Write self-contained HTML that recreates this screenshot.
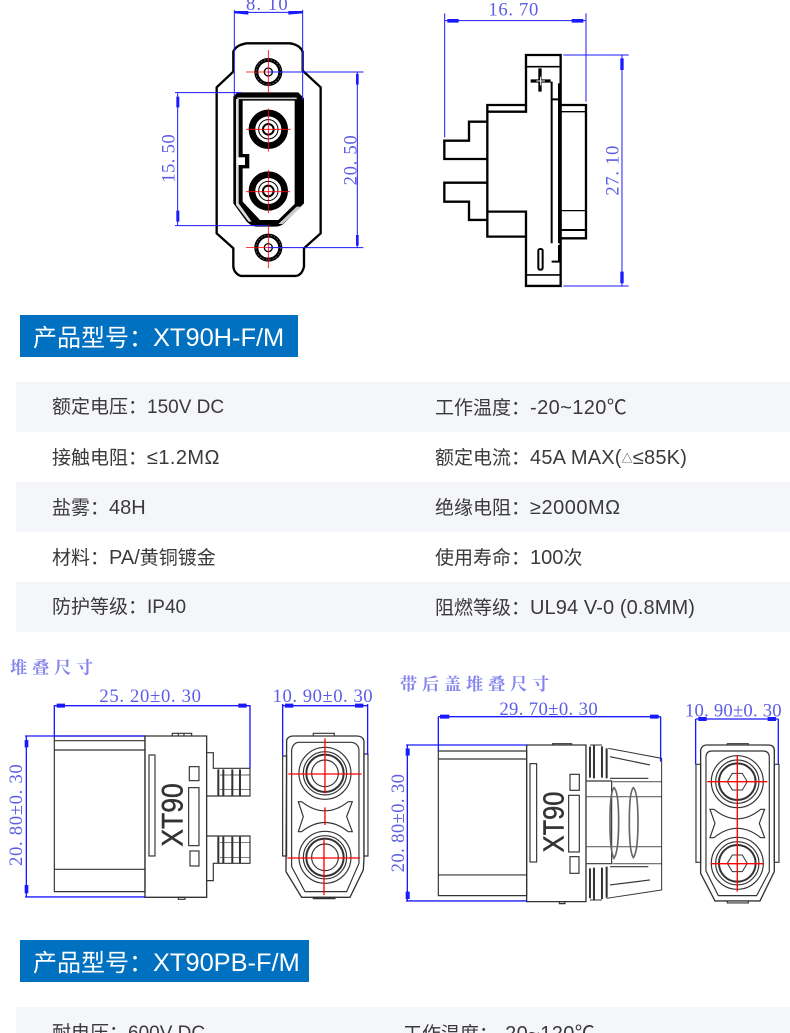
<!DOCTYPE html>
<html lang="zh"><head><meta charset="utf-8"><style>
html,body{margin:0;padding:0;background:#fff}
#p{position:relative;width:790px;height:1033px;overflow:hidden;background:#fff;font-family:"Liberation Sans","Noto Sans CJK SC",sans-serif;color:#3a3a3a}
.r{position:absolute;left:16px;width:774px;height:50px;background:#f5f6fa}
.t{position:absolute;font-size:19px;line-height:26px;white-space:nowrap}
.t i{font-style:normal;font-size:20px}
.t i.s{font-size:19px}
.t small{font-size:11px;vertical-align:2px}
.b{position:absolute;left:20px;background:#0070c0;color:#fff;font-size:24px;line-height:46px;height:42px;overflow:hidden;white-space:nowrap;padding-left:13px;box-sizing:border-box}
.b i{font-style:normal;font-size:25.4px}
svg{position:absolute;left:0;top:0}
text.d{font-family:"Liberation Serif",serif;fill:#5c5ce6;font-size:56px}
</style></head><body><div id="p">
<svg width="790" height="1033" viewBox="0 0 790 1033">
<!-- front view -->
<g transform="translate(150,0) scale(.3333)" fill="none">
<path d="M290 130H420Q450 135 458 155V212L512 262V700L462 745V800Q455 828 435 828H272Q252 820 250 800V745L200 700V262L250 215V155Q258 135 290 130Z" stroke="#000" stroke-width="7" fill="#fff"/>
<path d="M262 277H445L462 295V610L400 672Q390 680 375 680H320Q305 680 290 665L250 610V290Z" fill="#000"/>
<path d="M262 295H440" stroke="#ccc" stroke-width="5"/>
<path d="M258 297H266V610L305 665H296L258 615Z" fill="#ddd"/>
<path d="M278 302H434V612L385 660H330L278 605V505H298V462H278Z" fill="#fff"/>
<rect x="262" y="472" width="23" height="23" fill="#fff"/>
<path d="M440 620 L385 672H398L455 620Z" fill="#ccc"/>
<circle cx="355" cy="216" r="36" stroke="#000" stroke-width="12"/><circle cx="355" cy="216" r="37" stroke="#888" stroke-width="2" stroke-dasharray="5 5"/><circle cx="355" cy="216" r="12" stroke="#000" stroke-width="4"/>
<circle cx="355" cy="743" r="36" stroke="#000" stroke-width="12"/><circle cx="355" cy="743" r="37" stroke="#888" stroke-width="2" stroke-dasharray="5 5"/><circle cx="355" cy="743" r="12" stroke="#000" stroke-width="4"/>
<circle cx="355" cy="388" r="49" stroke="#000" stroke-width="20"/><circle cx="355" cy="388" r="29" stroke="#000" stroke-width="3"/><circle cx="355" cy="388" r="16" stroke="#000" stroke-width="6"/>
<circle cx="355" cy="573" r="49" stroke="#000" stroke-width="20"/><circle cx="355" cy="573" r="29" stroke="#000" stroke-width="3"/><circle cx="355" cy="573" r="16" stroke="#000" stroke-width="6"/>
<g stroke="#f00" stroke-width="2.5"><path d="M355 150V280M288 216H420M355 325V455M288 388H422M355 510V640M288 575H420M355 675V805M288 743H420"/></g>
<g stroke="#1a1aff" stroke-width="3"><path d="M253 30V290M458 30V300M253 37H458M355 216H640M355 743H640M75 278H275M75 677H355M83 280V675"/></g>
<g fill="#1a1aff"><path d="M255 33L295 33V44L255 40ZM458 33L415 33V44L458 40ZM79 290H88V322H79ZM79 632H88V665H79Z"/></g>
<text class="d" x="288" y="30" textLength="125" lengthAdjust="spacing">8. 10</text>
<text class="d" transform="translate(74,548) rotate(-90)" textLength="145">15. 50</text>
<text class="d" transform="translate(620,556) rotate(-90)" textLength="150">20. 50</text>
<g stroke="#1a1aff" stroke-width="3"><path d="M622 216V743"/></g>
<g fill="#1a1aff"><path d="M618 222H626V254H618ZM618 705H626V737H618Z"/></g>
</g>
<!-- side view -->
<g transform="translate(430,0) scale(.3333)" fill="none" stroke="#000" stroke-width="7">
<path d="M288 165H392V858H288V710H172V315H288Z"/>
<path d="M172 335H288V315M172 635H288V710"/>
<path d="M170 365H117V422H43V477H170M170 548H43V605H117V660H170"/>
<path d="M392 315H468V715H392"/>
<path d="M392 335H466M392 632H466" stroke-width="4"/><path d="M392 690H466" stroke-width="6"/>
<path d="M288 200H392" stroke-width="5"/><path d="M288 825H392" stroke-width="5"/>
<path d="M365 245V730M387 250V730M365 298H387M387 735V785H365" stroke-width="6"/>
<rect x="325" y="747" width="13" height="62" rx="5" stroke-width="6"/>
<path d="M330 205V275M302 243H362" stroke-width="10"/>
<path d="M319 243H345M332 230V256" stroke="#fff" stroke-width="3"/>
<g stroke="#1a1aff" stroke-width="3"><path d="M44 40V412M468 40V305M44 62H468M400 165H596M400 858H596M576 165V858"/></g>
<g fill="#1a1aff" stroke="none"><path d="M52 57H86V68H52ZM425 57H460V68H425ZM571 175H581V210H571ZM571 815H581V850H571Z"/></g>
<g stroke="none"><text class="d" x="175" y="47" textLength="150">16. 70</text>
<text class="d" transform="translate(565,587) rotate(-90)" textLength="150">27. 10</text></g>
</g>
<!-- stack left -->
<g transform="translate(0,650) scale(.3333)" fill="none" stroke="#333" stroke-width="3.5">
<path d="M163 258H435V725H163Z" fill="#fff"/><path d="M163 272H435M163 300H435M163 658H435"/>
<path d="M435 258H620V742H435Z" stroke-width="4"/>
<path d="M517 258V250H575V258M535 250V258M552 250V258M535 742H555V748H535Z"/>
<rect x="447" y="315" width="18" height="303"/><rect x="568" y="350" width="29" height="42"/><rect x="566" y="413" width="31" height="174"/><rect x="570" y="603" width="27" height="45"/>
<path d="M620 308H640V355H750V438H620M620 558H750V640H640V692H620"/>
<path d="M655 358V438M670 358V438M697 358V438M720 358V438M655 560V640M670 560V640M697 560V640M720 560V640" stroke-width="6"/>
<path d="M660 375H750M660 418H750M660 578H750M660 622H750" stroke-width="2"/>
<!-- right view -->
<path d="M860 270Q865 258 880 258H1070Q1088 258 1092 272V625L1090 660L1050 742H905L858 665Z" stroke-width="4" fill="#fff"/>
<path d="M875 300Q878 280 895 277H1055Q1075 280 1077 300V640L1040 725H915L875 650Z"/>
<path d="M848 318H860V618H848ZM1092 312H1104V618H1092Z"/>
<path d="M940 258V250H1003V258M940 742H1005V746H940Z"/>
<circle cx="975" cy="370" r="78"/><circle cx="975" cy="370" r="65"/><circle cx="975" cy="370" r="56" stroke-width="6"/><circle cx="975" cy="370" r="40"/>
<circle cx="975" cy="622" r="78"/><circle cx="975" cy="622" r="65"/><circle cx="975" cy="622" r="56" stroke-width="6"/><circle cx="975" cy="622" r="40"/>
<path d="M895 455H905Q975 510 1045 455H1057L1040 500L1057 545H1045Q975 490 905 545H895L910 500Z"/>
<g stroke="#f00" stroke-width="4"><path d="M975 265V430M865 372H1085M975 472V525M972 568V735M862 624H1080"/></g>
<g stroke="#1a1aff" stroke-width="4"><path d="M163 165V262M750 165V355M163 167H750M75 258H435M75 741H435M79 258V741M848 162V318M1103 162V315M848 167H1103"/></g>
<g fill="#1a1aff" stroke="none"><path d="M170 161H195V173H170ZM715 161H740V173H715ZM74 270H85V292H74ZM74 705H85V730H74ZM855 161H880V173H855ZM1065 161H1090V173H1065Z"/></g>
<g stroke="none"><text class="d" x="298" y="156" textLength="305">25. 20±0. 30</text>
<text class="d" x="818" y="156" textLength="300">10. 90±0. 30</text>
<text class="d" transform="translate(66,648) rotate(-90)" textLength="305">20. 80±0. 30</text>
<text transform="translate(548,590) rotate(-90)" style="font:400 90px 'Liberation Sans',sans-serif;fill:#333;stroke:#333;stroke-width:1.5px" textLength="190" lengthAdjust="spacingAndGlyphs">XT90</text></g>
<text x="30" y="70" stroke="none" fill="#8484ee" style="font:700 52px 'Noto Serif CJK SC',serif;letter-spacing:14px">堆叠尺寸</text>
</g>
<!-- stack right -->
<g transform="translate(390,665) scale(.3333)" fill="none" stroke="#333" stroke-width="3.5">
<path d="M145 258H410V692H145Z" fill="#fff"/><path d="M145 282H410M145 630H410"/>
<path d="M410 240H588V710H410Z" stroke-width="4"/>
<path d="M488 240V236H545V240M508 710H525V716H508Z"/>
<rect x="420" y="296" width="20" height="295"/><rect x="540" y="328" width="28" height="48"/><rect x="536" y="391" width="32" height="170"/><rect x="540" y="575" width="27" height="50"/>
<path d="M590 348H665V596H590"/>
<path d="M590 395H815M590 545H815M668 350H815M668 596H815" stroke-width="3.5" stroke="#666"/>
<path d="M600 245V338M612 240V340M636 244V338M650 250V340M600 610V700M612 608V705M636 608V702M650 605V698" stroke-width="6"/>
<path d="M600 240H636M655 250L815 280V675L650 700M600 705H636" stroke-width="3"/>
<path d="M660 275L780 300M660 340H775M660 605H775M660 660L780 645" stroke-width="3.5"/>
<path d="M672 368Q660 380 660 470Q660 560 672 580Q686 560 686 470Q686 380 672 368ZM730 368Q718 380 718 470Q718 560 730 578Q744 560 744 470Q744 380 730 368Z" stroke-width="5" stroke="#666"/>
<!-- right view -->
<path d="M932 255Q936 240 950 240H1135Q1152 240 1153 255V620L1110 708H975L932 625Z" stroke-width="4" fill="#fff"/>
<path d="M948 275Q950 258 965 258H1120Q1136 258 1138 275V620L1100 692H985L948 618Z"/>
<path d="M918 298H932V592H918ZM1153 298H1167V592H1153Z"/>
<path d="M1012 240V236H1075V240M1012 708V714H1075V708"/>
<circle cx="1042" cy="350" r="78"/><circle cx="1042" cy="350" r="65"/><circle cx="1042" cy="350" r="55" stroke-width="6"/><path d="M1012 350L1027 325H1057L1072 350L1057 375H1027Z" stroke-width="3"/>
<circle cx="1042" cy="595" r="78"/><circle cx="1042" cy="595" r="65"/><circle cx="1042" cy="595" r="55" stroke-width="6"/><path d="M1012 595L1027 570H1057L1072 595L1057 620H1027Z" stroke-width="3"/>
<path d="M960 433H972Q1042 490 1112 433H1124L1108 475L1124 518H1112Q1042 462 972 518H960L975 475Z"/>
<g stroke="#f00" stroke-width="4"><path d="M1042 270V680M952 350H1132M962 596H1122"/></g>
<g stroke="#1a1aff" stroke-width="4"><path d="M145 155V258M812 155V290M145 155H812M48 240H410M48 708H410M52 240V708M917 162V298M1165 162V298M917 162H1165"/></g>
<g fill="#1a1aff" stroke="none"><path d="M150 149H178V161H150ZM780 149H806V161H780ZM47 250H59V272H47ZM47 680H59V702H47ZM925 156H950V168H925ZM1133 156H1158V168H1133Z"/></g>
<g stroke="none"><text class="d" x="328" y="150" textLength="295">29. 70±0. 30</text>
<text class="d" x="885" y="154" textLength="290">10. 90±0. 30</text>
<text class="d" transform="translate(42,622) rotate(-90)" textLength="295">20. 80±0. 30</text>
<text transform="translate(520,562) rotate(-90)" style="font:400 85px 'Liberation Sans',sans-serif;fill:#333;stroke:#333;stroke-width:1.5px" textLength="182" lengthAdjust="spacingAndGlyphs">XT90</text></g>
<text x="30" y="75" stroke="none" fill="#8484ee" style="font:700 52px 'Noto Serif CJK SC',serif;letter-spacing:14px">带后盖堆叠尺寸</text>
</g>
</svg>
<div class="b" style="top:315px;width:278px">产品型号&#xFF1A;<i>XT90H-F/M</i></div>
<div class="r" style="top:382px"></div><div class="r" style="top:482px"></div><div class="r" style="top:582px"></div><div class="r" style="top:1007px;height:26px"></div>
<div class="t" style="left:52px;top:395px">额定电压&#xFF1A;<i class="s">150V DC</i></div><div class="t" style="left:435px;top:395px">工作温度&#xFF1A;<i style="letter-spacing:.4px">-20~120℃</i></div>
<div class="t" style="left:52px;top:445px">接触电阻&#xFF1A;<i style="letter-spacing:.4px">≤1.2MΩ</i></div><div class="t" style="left:435px;top:445px">额定电流&#xFF1A;<i style="letter-spacing:.2px">45A MAX(<small>△</small>≤85K)</i></div>
<div class="t" style="left:52px;top:495px">盐雾&#xFF1A;<i>48H</i></div><div class="t" style="left:435px;top:495px">绝缘电阻&#xFF1A;<i style="letter-spacing:.5px">≥2000MΩ</i></div>
<div class="t" style="left:52px;top:545px">材料&#xFF1A;<i>PA/</i>黄铜镀金</div><div class="t" style="left:435px;top:545px">使用寿命&#xFF1A;<i>100</i>次</div>
<div class="t" style="left:52px;top:595px">防护等级&#xFF1A;<i class="s">IP40</i></div><div class="t" style="left:435px;top:595px">阻燃等级&#xFF1A;<i style="letter-spacing:.1px">UL94 V-0 (0.8MM)</i></div>
<div class="b" style="top:940px;width:289px">产品型号&#xFF1A;<i>XT90PB-F/M</i></div>
<div class="t" style="left:52px;top:1021px">耐电压&#xFF1A;<i class="s">600V DC</i></div><div class="t" style="left:403px;top:1021px">工作温度&#xFF1A;<i style="letter-spacing:.4px">-20~120℃</i></div>
</div></body></html>
